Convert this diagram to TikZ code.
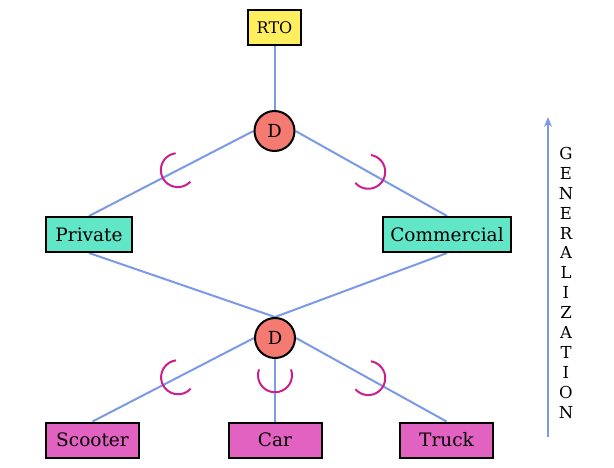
\documentclass[tikz,border=0pt]{standalone}
\usepackage{fontspec}
\setmainfont{DejaVu Serif}
\usetikzlibrary{arrows.meta,calc,backgrounds}
\definecolor{rtoyellow}{HTML}{FFEE5E}
\definecolor{midteal}{HTML}{62E6C8}
\definecolor{lowpink}{HTML}{E262C2}
\definecolor{dsalmon}{HTML}{F47A72}
\definecolor{edgeblue}{HTML}{7B9AE6}
\definecolor{arcmag}{HTML}{CC1F8F}
\newcommand{\subsetarc}[3]{%
  \draw[subarc] let \p1=($(#1)-(#2)$), \n1={atan2(\y1,\x1)} in
    ($(#1)!#3!(#2)$) ++(\n1+70:17) arc[start angle=\n1+70, end angle=\n1+290, radius=17];}
\begin{document}
\begin{tikzpicture}[x=1pt,y=1pt,
  ent/.style={draw=black,line width=2pt,minimum height=35pt,inner xsep=0pt,font=\fontsize{18.5}{21}\selectfont},
  lowent/.style={ent,fill=lowpink,minimum width=93pt},
  dis/.style={circle,draw=black,line width=2pt,fill=dsalmon,minimum size=40pt,inner sep=0pt,font=\fontsize{18}{20}\selectfont},
  link/.style={draw=edgeblue,line width=2pt},
  subarc/.style={draw=arcmag,line width=2pt},
  genarrow/.style={draw=edgeblue,line width=2pt,-{Stealth[length=10pt,width=8pt]}}
]
\useasboundingbox (0,0) rectangle (614,-468);

\node[ent,fill=rtoyellow,minimum width=53pt,font=\fontsize{16}{18}\selectfont] (rto) at (274.5,-28) {RTO};
\node[dis] (d1) at (274.5,-131) {D};
\node[ent,fill=midteal,minimum width=86pt] (priv) at (89,-234.5) {Private};
\node[ent,fill=midteal,minimum width=128pt] (comm) at (447,-234.5) {Commercial};
\node[dis] (d2) at (275,-338) {D};
\node[lowent] (scoot) at (92.5,-440) {Scooter};
\node[lowent] (car) at (275,-440) {Car};
\node[lowent] (truck) at (446.5,-440) {Truck};

\begin{scope}[on background layer]
\draw[link] (rto.south) -- (d1.north);
\draw[link] (d1.west) -- (priv.north);
\draw[link] (d1.east) -- (comm.north);
\draw[link] (priv.south) -- (d2.north);
\draw[link] (comm.south) -- (d2.north);
\draw[link] (d2.west) -- (scoot.north);
\draw[link] (d2.south) -- (car.north);
\draw[link] (d2.east) -- (truck.north);
\end{scope}

\subsetarc{d1.west}{priv.north}{0.46}
\subsetarc{d1.east}{comm.north}{0.48}
\subsetarc{d2.west}{scoot.north}{0.47}
\subsetarc{d2.south}{car.north}{0.26}
\subsetarc{d2.east}{truck.north}{0.48}

\coordinate (gbot) at (548,-437);
\coordinate (gtop) at (548,-117);
\draw[genarrow] (gbot) -- (gtop);
\node[anchor=north,inner sep=0pt,align=center,font=\fontsize{16.5}{19.9}\selectfont] (gen) at (566,-147)
  {G\\E\\N\\E\\R\\A\\L\\I\\Z\\A\\T\\I\\O\\N};
\end{tikzpicture}
\end{document}
